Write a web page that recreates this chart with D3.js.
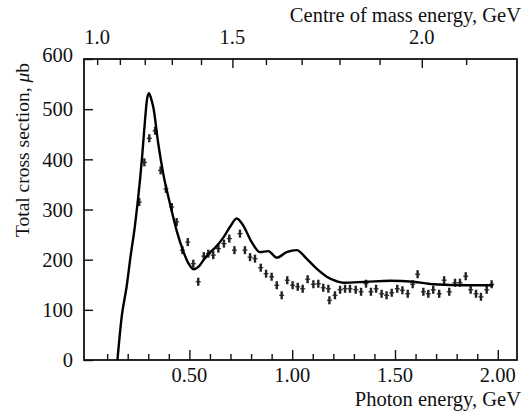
<!DOCTYPE html>
<html>
<head>
<meta charset="utf-8">
<script src="https://cdn.jsdelivr.net/npm/d3@7"></script>
<style>
  html, body { margin: 0; padding: 0; background: #fff; }
  svg { display: block; }
  text { font-family: "Liberation Serif", "DejaVu Serif", serif; fill: #111; }
</style>
</head>
<body>
<script>
// ---- data ----
const curveE = [0.150, 0.171, 0.195, 0.214, 0.235, 0.260, 0.270, 0.284, 0.294, 0.303, 0.313, 0.325, 0.349, 0.373, 0.406, 0.438, 0.470, 0.495, 0.520, 0.545, 0.570, 0.600, 0.630, 0.665, 0.697, 0.730, 0.762, 0.803, 0.843, 0.884, 0.925, 0.973, 1.022, 1.070, 1.119, 1.168, 1.216, 1.249, 1.362, 1.476, 1.589, 1.686, 1.849, 1.978];
const curveSigma = [0, 87, 147, 207, 267, 360, 405, 477, 520, 532, 522, 503, 430, 371, 311, 258, 217, 193, 181, 186, 200, 214, 226, 244, 265, 282, 268, 235, 215, 217, 204, 215, 219, 202, 182, 166, 157, 154, 156, 158, 156, 151, 149, 149];

const pointE = [0.256, 0.281, 0.305, 0.333, 0.360, 0.386, 0.414, 0.438, 0.466, 0.492, 0.519, 0.543, 0.570, 0.592, 0.616, 0.641, 0.668, 0.694, 0.719, 0.746, 0.770, 0.795, 0.819, 0.847, 0.873, 0.900, 0.925, 0.949, 0.976, 1.002, 1.027, 1.051, 1.075, 1.103, 1.127, 1.151, 1.176, 1.181, 1.208, 1.233, 1.257, 1.281, 1.309, 1.335, 1.359, 1.383, 1.408, 1.435, 1.459, 1.484, 1.511, 1.536, 1.562, 1.586, 1.610, 1.638, 1.662, 1.686, 1.715, 1.739, 1.764, 1.792, 1.816, 1.844, 1.868, 1.894, 1.918, 1.946, 1.970];
const pointSigma = [315, 394, 442, 457, 378, 341, 305, 275, 219, 235, 192, 156, 207, 212, 209, 222, 232, 242, 219, 252, 219, 205, 202, 184, 172, 166, 149, 129, 159, 149, 146, 142, 161, 151, 152, 144, 142, 119, 129, 140, 142, 142, 140, 136, 152, 136, 142, 132, 129, 134, 142, 139, 132, 151, 171, 136, 132, 140, 132, 159, 136, 154, 154, 167, 140, 132, 126, 140, 151];

const bottomTicks = [0.1,0.2,0.3,0.4,0.5,0.6,0.7,0.8,0.9,1.0,1.1,1.2,1.3,1.4,1.5,1.6,1.7,1.8,1.9,2.0];
const bottomLabels = [0.5, 1.0, 1.5, 2.0];
const topTicks = [1.0,1.1,1.2,1.3,1.4,1.5,1.6,1.7,1.8,1.9,2.0,2.1];
const topLabels = [1.0, 1.5, 2.0];
const yTicks = [0, 100, 200, 300, 400, 500, 600];

const W = 525, H = 411;
const L = 84, R = 517, T = 59, B = 360;
const M = 0.95; // mass used for W <-> photon-energy conversion
const FS = 20.5;

const svg = d3.select("body").append("svg").attr("width", W).attr("height", H);

const x = d3.scaleLinear().domain([-0.0126, 2.0934]).range([L, R]);
const y = d3.scaleLinear().domain([0, 600]).range([B, T]);
const wOf = e => Math.sqrt(M * M + 2 * M * e);
const xTop = d3.scalePow().exponent(2).domain([wOf(x.invert(L)), wOf(x.invert(R))]).range([L, R]);

// frame
svg.append("rect").attr("x", L).attr("y", T).attr("width", R - L).attr("height", B - T)
  .attr("fill", "none").attr("stroke", "#111").attr("stroke-width", 1.8);

const isMajor = v => Math.abs(v * 2 - Math.round(v * 2)) < 1e-6;

// bottom axis (ticks inside)
const gB = svg.append("g").attr("transform", `translate(0,${B})`);
gB.call(d3.axisTop(x).tickValues(bottomTicks).tickSize(6).tickFormat(""));
gB.selectAll(".tick line").attr("y2", d => isMajor(d) ? -10 : -6).attr("stroke", "#111").attr("stroke-width", 1.4);
gB.select(".domain").remove();
svg.append("g").selectAll("text").data(bottomLabels).join("text")
  .attr("x", d => x(d)).attr("y", 382).attr("text-anchor", "middle").attr("font-size", FS)
  .text(d => d3.format(".2f")(d));

// top axis (ticks inside)
const gT = svg.append("g").attr("transform", `translate(0,${T})`);
gT.call(d3.axisBottom(xTop).tickValues(topTicks).tickSize(6).tickFormat(""));
gT.selectAll(".tick line").attr("y2", d => (Math.abs(d - 1.5) < 1e-6 || Math.abs(d - 2.0) < 1e-6) ? 9 : 6).attr("stroke", "#111").attr("stroke-width", 1.4);
gT.select(".domain").remove();
svg.append("g").selectAll("text").data(topLabels).join("text")
  .attr("x", d => xTop(d)).attr("y", 44).attr("text-anchor", "middle").attr("font-size", FS)
  .text(d => d3.format(".1f")(d));

// left axis (ticks inside)
const gL = svg.append("g").attr("transform", `translate(${L},0)`);
gL.call(d3.axisRight(y).tickValues(yTicks).tickSize(9).tickFormat(""));
gL.selectAll(".tick line").attr("stroke", "#111").attr("stroke-width", 1.4);
gL.select(".domain").remove();
svg.append("g").selectAll("text").data(yTicks).join("text")
  .attr("x", 73).attr("y", d => y(d) - (d === 600 ? 4 : 0)).attr("dy", "0.35em").attr("text-anchor", "end").attr("font-size", FS)
  .text(d => d);

// axis titles
svg.append("text").attr("x", 521).attr("y", 22).attr("text-anchor", "end").attr("font-size", FS)
  .text("Centre of mass energy, GeV");
svg.append("text").attr("x", 521).attr("y", 406).attr("text-anchor", "end").attr("font-size", FS)
  .text("Photon energy, GeV");
const yl = svg.append("text").attr("transform", "translate(29,150) rotate(-90)")
  .attr("text-anchor", "middle").attr("font-size", 19.5);
yl.append("tspan").text("Total cross section, ");
yl.append("tspan").attr("font-style", "italic").text("\u03bc");
yl.append("tspan").text("b");

// data points with error bars
const pts = pointE.map((e, i) => ({ e, s: pointSigma[i] }));
const gp = svg.append("g").attr("stroke", "#222");
gp.selectAll("line.err").data(pts).join("line").attr("class", "err")
  .attr("x1", d => x(d.e)).attr("x2", d => x(d.e))
  .attr("y1", d => y(d.s + 8)).attr("y2", d => y(d.s - 8))
  .attr("stroke-width", 2.4);
gp.selectAll("line.cap").data(pts).join("line").attr("class", "cap")
  .attr("x1", d => x(d.e) - 2.5).attr("x2", d => x(d.e) + 2.5)
  .attr("y1", d => y(d.s)).attr("y2", d => y(d.s))
  .attr("stroke-width", 1.2);

// theory curve
const cdata = curveE.map((e, i) => [e, curveSigma[i]]);
svg.append("path").datum(cdata)
  .attr("fill", "none").attr("stroke", "#000").attr("stroke-width", 2.4)
  .attr("stroke-linejoin", "round")
  .attr("d", d3.line().x(d => x(d[0])).y(d => y(d[1])).curve(d3.curveMonotoneX));
</script>
</body>
</html>
